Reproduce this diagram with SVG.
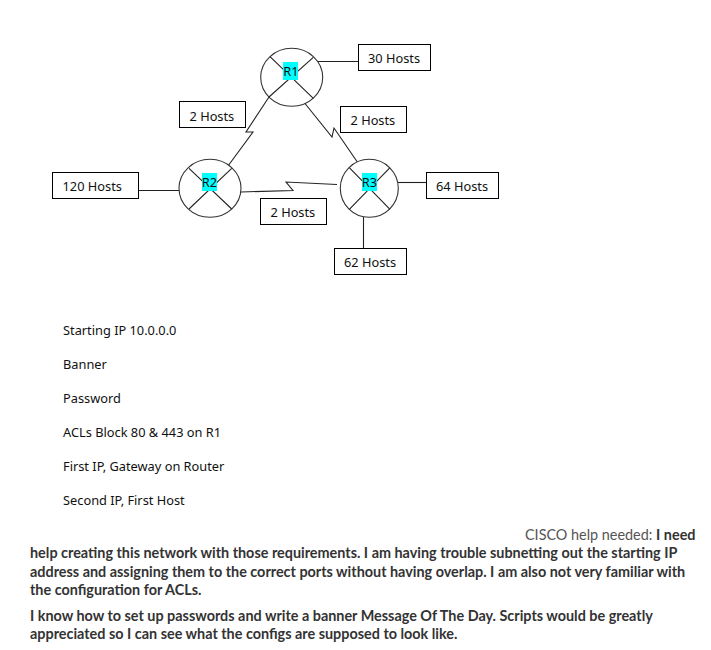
<svg xmlns="http://www.w3.org/2000/svg" width="711" height="650" viewBox="0 0 711 650">
<style>
.box{fill:#fff;stroke:#000;stroke-width:1}
.rt{fill:#fff;stroke:#333;stroke-width:1.1}
.x{stroke:#222;stroke-width:1.1;fill:none}
.hl{fill:#00ffff}
.t{font-family:"Noto Sans","Open Sans",sans-serif;font-size:12.8px;fill:#111}
.rl{font-family:"Noto Sans","Open Sans",sans-serif;font-size:12.8px;fill:#111;text-anchor:middle}
.p{font-family:"Lato","Noto Sans",sans-serif;font-size:14.4px;font-weight:700;fill:#333}
.n{font-family:"Lato","Noto Sans",sans-serif;font-size:14.4px;fill:#555}
.c{stroke:#222;stroke-width:1.1;fill:none}
</style>
<rect width="711" height="650" fill="#fff"/>
<g id="connectors">
<path class="c" d="M317 61.500H358"/>
<path class="c" d="M269 97L246 132L253 132L228.700 165"/>
<path class="c" d="M303 101L332 137L334 128L358 163"/>
<path class="c" d="M241 192L293 190.500L286 182L337 184.500"/>
<path class="c" d="M398 182.500H426"/>
<path class="c" d="M363.500 217V248"/>
<path class="c" d="M138 190.500H179"/>
</g>
<g id="R1"><ellipse class="rt" cx="291.700" cy="77.300" rx="31" ry="29"/><path class="x" d="M270 56.700L313.300 98.300M313.300 57.300L269 97"/><rect class="hl" x="283" y="62" width="15" height="18"/><text class="rl" x="291" y="76">R1</text></g>
<g id="R2"><ellipse class="rt" cx="210" cy="188.300" rx="31" ry="29"/><path class="x" d="M189 168.300L231.700 209M231.700 168.300L189 209"/><rect class="hl" x="202" y="173" width="15" height="18"/><text class="rl" x="209.500" y="187">R2</text></g>
<g id="R3"><ellipse class="rt" cx="369.300" cy="188.300" rx="29" ry="29"/><path class="x" d="M349.300 167.700L390 209.300M390 167.700L349.300 209.300"/><rect class="hl" x="362" y="173" width="15" height="18"/><text class="rl" x="369.500" y="187">R3</text></g>
<g id="h30"><rect class="box" x="358.500" y="44.500" width="72" height="26"/><text class="t" x="368" y="63">30 Hosts</text></g>
<g id="h2a"><rect class="box" x="179.500" y="101.500" width="66" height="26"/><text class="t" x="189.500" y="121">2 Hosts</text></g>
<g id="h2b"><rect class="box" x="340.500" y="106.500" width="66" height="26"/><text class="t" x="350.500" y="125">2 Hosts</text></g>
<g id="h2c"><rect class="box" x="260.500" y="198.500" width="66" height="26"/><text class="t" x="270.500" y="217">2 Hosts</text></g>
<g id="h120"><rect class="box" x="52.500" y="172.500" width="86" height="26"/><text class="t" x="62.500" y="191">120 Hosts</text></g>
<g id="h64"><rect class="box" x="426.500" y="172.500" width="72" height="26"/><text class="t" x="436" y="191">64 Hosts</text></g>
<g id="h62"><rect class="box" x="334.500" y="248.500" width="72" height="26"/><text class="t" x="344" y="267">62 Hosts</text></g>
<text class="t" x="63" y="335">Starting IP 10.0.0.0</text>
<text class="t" x="63" y="369">Banner</text>
<text class="t" x="63" y="403">Password</text>
<text class="t" x="63" y="437">ACLs Block 80 &amp; 443 on R1</text>
<text class="t" x="63" y="471">First IP, Gateway on Router</text>
<text class="t" x="63" y="505">Second IP, First Host</text>
<text x="525" y="540"><tspan class="n">CISCO help needed: </tspan><tspan class="p">I need</tspan></text>
<text class="p" x="30" y="558">help creating this network with those requirements. I am having trouble subnetting out the starting IP</text>
<text class="p" x="30" y="577">address and assigning them to the correct ports without having overlap. I am also not very familiar with</text>
<text class="p" x="30" y="595">the configuration for ACLs.</text>
<text class="p" x="30" y="621">I know how to set up passwords and write a banner Message Of The Day. Scripts would be greatly</text>
<text class="p" x="30" y="639">appreciated so I can see what the configs are supposed to look like.</text>
</svg>
